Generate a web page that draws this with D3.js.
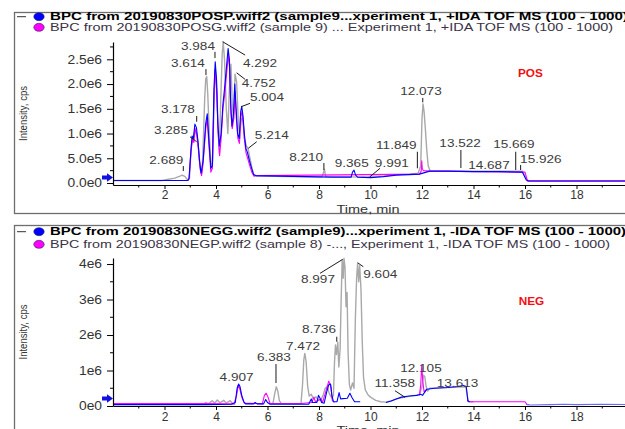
<!DOCTYPE html>
<html>
<head>
<meta charset="utf-8">
<script src="https://cdnjs.cloudflare.com/ajax/libs/d3/7.8.5/d3.min.js"></script>
<style>
body { margin: 0; background: #fff; }
svg { display: block; font-family: "Liberation Sans", Arial, sans-serif; }
</style>
</head>
<body>
<svg id="chart" width="625" height="429"></svg>
<script>
// x ticks (minutes)
const timeTicks = [2, 4, 6, 8, 10, 12, 14, 16, 18];
const timeMinor = [1, 3, 5, 7, 9, 11, 13, 15, 17, 19];

// intensities in millions of cps, [time, intensity]
const posTicks = [0, 0.5, 1, 1.5, 2, 2.5];
const posTickLabels = ["0.0e0", "5.0e5", "1.0e6", "1.5e6", "2.0e6", "2.5e6"];
const posMinor = [0.25, 0.75, 1.25, 1.75, 2.25, 2.75];

const posGray = [[0,0.05],[1.9,0.05],[2.1,0.07],[2.4,0.1],[2.6,0.14],[2.69,0.16],[2.8,0.13],[2.9,0.06],[2.97,0.1],[3.04,0.75],[3.1,0.9],[3.18,1.05],[3.26,0.95],[3.32,0.7],[3.4,0.25],[3.46,0.22],[3.51,0.9],[3.56,1.7],[3.6,2.1],[3.64,2.15],[3.68,1.8],[3.74,1.0],[3.8,0.4],[3.86,0.35],[3.92,1.5],[3.97,2.3],[4.02,2.0],[4.08,1.2],[4.13,0.6],[4.18,1.6],[4.24,2.6],[4.28,2.85],[4.33,2.5],[4.4,1.5],[4.46,1.0],[4.52,1.9],[4.58,2.4],[4.63,1.6],[4.68,1.3],[4.74,2.2],[4.8,2.05],[4.86,1.3],[4.92,0.9],[4.98,1.3],[5.04,1.3],[5.1,0.9],[5.18,0.75],[5.25,0.68],[5.32,0.5],[5.4,0.3],[5.48,0.15],[5.6,0.14],[8.1,0.12],[8.17,0.2],[8.21,0.28],[8.26,0.13],[9.9,0.12],[10.0,0.14],[10.5,0.14],[11.0,0.17],[11.5,0.18],[11.85,0.2],[11.95,0.35],[12.0,1.3],[12.04,1.6],[12.08,1.45],[12.13,1.1],[12.18,0.7],[12.24,0.35],[12.32,0.24],[15.9,0.24],[16.1,0.04],[20,0.04]];
const posBlue = [[0,0.05],[2.9,0.05],[2.95,0.08],[3.02,0.6],[3.07,0.95],[3.12,0.9],[3.18,1.19],[3.24,1.12],[3.3,0.85],[3.36,0.45],[3.42,0.2],[3.5,0.45],[3.6,1.2],[3.66,1.4],[3.72,0.9],[3.8,0.3],[3.86,0.35],[3.92,1.9],[3.97,2.45],[4.02,2.1],[4.07,1.2],[4.13,0.75],[4.2,1.0],[4.27,1.6],[4.33,1.9],[4.4,2.3],[4.47,2.72],[4.52,2.5],[4.57,1.6],[4.62,1.15],[4.68,1.4],[4.73,2.0],[4.78,1.5],[4.84,1.0],[4.9,0.9],[4.96,1.45],[5.0,1.55],[5.05,1.35],[5.1,1.0],[5.16,0.7],[5.22,0.62],[5.3,0.45],[5.38,0.3],[5.46,0.17],[5.55,0.15],[6.5,0.14],[7.5,0.13],[8.5,0.12],[9.25,0.12],[9.3,0.22],[9.36,0.26],[9.42,0.16],[9.5,0.12],[10.0,0.11],[10.5,0.13],[11.0,0.16],[11.5,0.17],[11.9,0.18],[12.3,0.24],[13.0,0.24],[14.0,0.23],[15.0,0.23],[15.9,0.22],[16.05,0.06],[16.15,0.04],[20,0.04]];
const posPink = [[0,0.05],[2.9,0.05],[2.96,0.1],[3.03,0.65],[3.09,0.88],[3.14,0.82],[3.19,1.1],[3.25,1.0],[3.31,0.72],[3.38,0.3],[3.44,0.15],[3.5,0.4],[3.6,1.1],[3.66,1.3],[3.72,0.8],[3.8,0.22],[3.86,0.3],[3.92,1.7],[3.97,2.3],[4.03,1.85],[4.08,1.0],[4.14,0.55],[4.2,0.9],[4.27,1.5],[4.34,1.8],[4.41,2.2],[4.48,2.6],[4.53,2.3],[4.58,1.4],[4.63,1.1],[4.69,1.3],[4.74,1.85],[4.79,1.3],[4.85,0.9],[4.91,0.8],[4.97,1.35],[5.01,1.45],[5.06,1.2],[5.11,0.85],[5.17,0.6],[5.23,0.5],[5.31,0.35],[5.39,0.22],[5.47,0.14],[5.55,0.15],[11.9,0.18],[11.97,0.24],[11.99,0.45],[12.01,0.3],[12.05,0.25],[12.3,0.24],[16,0.22],[16.1,0.04],[20,0.04]];

// peak labels: text, text time, text level, anchor, optional line (t1, v1, t2, v2)
const posLabels = [
  ["2.689", 2.73, 0.465, "end", 2.73, 0.343, 2.73, 0.242],
  ["3.285", 2.91, 1.07, "end", 2.99, 0.935, 3.25, 0.834],
  ["3.178", 3.18, 1.495, "end", 3.25, 1.354, 3.25, 1.238],
  ["3.614", 3.57, 2.43, "end", 3.61, 2.303, 3.61, 2.18],
  ["3.984", 3.96, 2.774, "end", 3.96, 2.652, 3.96, 2.525],
  ["4.292", 5.05, 2.438, "start", 4.26, 2.855, 5.13, 2.586],
  ["4.752", 5.0, 2.026, "start", 4.8, 2.228, 5.13, 2.095],
  ["5.004", 5.32, 1.743, "start", 4.97, 1.541, 5.32, 1.61],
  ["5.214", 5.51, 0.97, "start", 5.25, 0.70, 5.58, 0.834],
  ["8.210", 8.16, 0.531, "end", 8.19, 0.404, 8.19, 0.263],
  ["9.365", 9.27, 0.398, "middle"],
  ["9.991", 10.17, 0.398, "start", 9.98, 0.127, 10.37, 0.297],
  ["11.849", 11.79, 0.768, "end", 11.82, 0.632, 11.82, 0.297],
  ["12.073", 11.96, 1.865, "middle", 12.03, 1.72, 12.03, 1.63],
  ["13.522", 13.48, 0.802, "middle", 13.51, 0.667, 13.51, 0.303],
  ["14.687", 14.6, 0.364, "middle"],
  ["15.669", 15.57, 0.782, "middle", 15.64, 0.632, 15.64, 0.263],
  ["15.926", 15.81, 0.485, "start", 15.83, 0.364, 15.83, 0.263]
];

const negTicks = [0, 1, 2, 3, 4];
const negTickLabels = ["0e0", "1e6", "2e6", "3e6", "4e6"];
const negMinor = [0.5, 1.5, 2.5, 3.5];

const negGray = [[3.5,0.04],[3.6,0.1],[3.7,0.06],[3.85,0.15],[3.95,0.08],[4.05,0.17],[4.15,0.09],[4.3,0.16],[4.4,0.08],[4.55,0.15],[4.65,0.07],[4.75,0.05],[4.8,null],
  [6.1,null],[6.15,0.05],[6.22,0.1],[6.28,0.35],[6.34,0.54],[6.4,0.42],[6.46,0.15],[6.55,0.06],[6.6,null],
  [7.28,null],[7.3,0.06],[7.36,0.6],[7.41,1.3],[7.45,1.48],[7.5,1.25],[7.56,0.55],[7.62,0.28],[7.7,0.33],[7.78,0.2],[7.88,0.26],[7.96,0.18],[8.06,0.16],[8.16,0.3],[8.24,0.5],[8.32,0.55],[8.4,0.35],[8.5,0.22],[8.56,0.3],[8.6,1.2],[8.64,1.72],[8.68,1.45],[8.73,1.8],[8.77,1.1],[8.82,1.6],[8.86,3.0],[8.9,4.12],[8.94,3.6],[8.97,4.16],[9.01,3.9],[9.05,2.8],[9.09,3.2],[9.13,1.5],[9.18,0.6],[9.23,0.45],[9.3,0.65],[9.36,0.5],[9.41,2.4],[9.46,3.6],[9.5,4.02],[9.54,3.5],[9.58,3.95],[9.63,3.3],[9.68,1.8],[9.73,0.8],[9.8,0.45],[9.9,0.32],[10.0,0.25],[10.2,0.16],[10.4,0.12],[10.6,0.11],[10.8,0.14],[11.0,0.2],[11.5,0.27],[11.9,0.32],[12.0,0.55],[12.06,0.87],[12.11,0.82],[12.16,0.55],[12.22,0.42],[12.3,0.5],[13.7,0.54],[13.8,0.12],[14.0,0.12]];
const negBlue = [[0,0.04],[3.6,0.04],[4.6,0.05],[4.75,0.1],[4.82,0.5],[4.88,0.62],[4.93,0.55],[5.0,0.3],[5.08,0.12],[5.15,0.06],[5.45,0.06],[5.52,0.1],[5.6,0.06],[5.85,0.06],[5.93,0.18],[6.0,0.1],[6.1,0.05],[7.6,0.05],[7.7,0.2],[7.75,0.1],[7.92,0.1],[7.98,0.3],[8.04,0.22],[8.1,0.1],[8.2,0.08],[8.3,0.4],[8.38,0.6],[8.45,0.62],[8.5,0.3],[8.56,0.12],[8.7,0.12],[8.78,0.38],[8.84,0.2],[9.1,0.22],[9.2,0.36],[9.28,0.24],[9.38,0.12],[9.6,0.12],[9.65,null],
  [10.55,null],[10.6,0.1],[10.8,0.14],[11.0,0.2],[11.2,0.25],[11.5,0.28],[11.8,0.3],[11.95,0.33],[12.02,0.3],[12.18,0.47],[12.5,0.5],[13.0,0.52],[13.4,0.55],[13.6,0.58],[13.72,0.55],[13.78,0.15],[13.85,0.12]];
const negBlueTail = [[16.05,0.05],[16.2,0.03],[17,0.04],[17.5,0.05],[18,0.04],[19,0.05],[20,0.04]];
const negPink = [[0,0.07],[3.6,0.07],[4.7,0.06],[4.8,0.3],[4.86,0.58],[4.92,0.5],[5.0,0.25],[5.1,0.08],[5.8,0.06],[5.88,0.3],[5.95,0.36],[6.02,0.25],[6.1,0.07],[7.3,0.07],[7.72,0.1],[7.8,0.25],[7.86,0.12],[8.08,0.2],[8.14,0.1],[8.28,0.45],[8.38,0.7],[8.46,0.55],[8.52,0.15],[8.6,0.1],[8.65,null],
  [11.88,null],[11.9,0.3],[11.95,0.6],[11.99,1.15],[12.03,0.7],[12.08,0.4],[12.15,0.45],[12.2,0.46],[12.25,null],
  [13.72,null],[13.75,0.15],[13.85,0.12],[16.0,0.12],[16.08,0.04],[16.15,0.04]];

const negLabels = [
  ["4.907", 4.8, 0.817, "middle"],
  ["6.383", 6.25, 1.372, "middle", 6.33, 1.183, 6.33, 0.648],
  ["7.472", 7.38, 1.69, "middle"],
  ["8.736", 8.66, 2.16, "end", 8.69, 1.952, 8.69, 1.81],
  ["8.997", 8.62, 3.577, "end", 8.92, 4.132, 8.04, 3.738],
  ["9.604", 9.72, 3.71, "start", 9.50, 4.037, 9.72, 3.924],
  ["11.358", 11.73, 0.64, "end", 10.95, 0.431, 11.34, 0.245],
  ["12.105", 11.96, 1.079, "middle"],
  ["13.613", 13.38, 0.656, "middle"]
];

const svg = d3.select("#chart");

function stretch(sel, k) {
  sel.each(function() {
    const w = this.getComputedTextLength();
    d3.select(this).attr("textLength", w * k).attr("lengthAdjust", "spacingAndGlyphs");
  });
}

function drawPanel(p) {
  const g = svg.append("g");

  g.append("rect")
    .attr("x", 14.5).attr("y", p.frameTop + 0.5)
    .attr("width", 640).attr("height", p.frameBottom - p.frameTop)
    .attr("fill", "none").attr("stroke", "#6e6e6e").attr("stroke-width", 1.3);
  g.append("line")
    .attr("x1", 17).attr("x2", 26).attr("y1", p.legendY[0]).attr("y2", p.legendY[0])
    .attr("stroke", "#333").attr("stroke-width", 1);

  p.legend.forEach((row, i) => {
    g.append("ellipse")
      .attr("cx", 39).attr("cy", p.legendY[i]).attr("rx", 5.2).attr("ry", 4)
      .attr("fill", row.color).attr("stroke", "#2a2a55").attr("stroke-width", 0.6);
    g.append("text")
      .attr("x", 50).attr("y", p.legendY[i]).attr("dy", "0.36em")
      .attr("font-size", 10.5)
      .attr("font-weight", i == 0 ? "bold" : "normal")
      .attr("fill", i == 0 ? "#000" : "#3a3346")
      .attr("textLength", row.width).attr("lengthAdjust", "spacingAndGlyphs")
      .text(row.text);
  });

  const x = d3.scaleLinear().domain([0, 20]).range([113, 628]);
  const y = d3.scaleLinear().domain(p.yDomain).range(p.yRange);
  const axisY = p.yRange[0];

  // traces
  const line = d3.line()
    .defined(d => d[1] != null)
    .x(d => x(d[0])).y(d => y(d[1]));
  p.series.forEach(s => {
    g.append("path")
      .attr("d", line(s.data))
      .attr("fill", "none")
      .attr("stroke", s.color)
      .attr("stroke-width", s.width)
      .attr("stroke-linejoin", "round");
  });

  // axes
  const xAxis = g.append("g")
    .attr("transform", `translate(0,${axisY})`)
    .call(d3.axisBottom(x).tickValues(timeTicks).tickSize(4).tickPadding(p.xPad).tickSizeOuter(0));
  g.append("g").selectAll("line").data(timeMinor).join("line")
    .attr("x1", d => x(d)).attr("x2", d => x(d))
    .attr("y1", axisY).attr("y2", axisY + 2.5)
    .attr("stroke", "#000");

  const yAxis = g.append("g")
    .attr("transform", "translate(113,0)")
    .call(d3.axisLeft(y).tickValues(p.yTicks).tickFormat((d, i) => p.yTickLabels[i])
      .tickSize(6).tickPadding(5).tickSizeOuter(0));
  g.append("g").selectAll("line").data(p.yMinor).join("line")
    .attr("x1", 113).attr("x2", 110)
    .attr("y1", d => y(d)).attr("y2", d => y(d))
    .attr("stroke", "#000");

  [xAxis, yAxis].forEach(a => {
    a.select(".domain").attr("stroke", "#000").attr("stroke-width", 1.2);
    a.selectAll(".tick line").attr("stroke", "#000");
    a.selectAll("text").attr("font-size", 12).attr("fill", "#333")
      .attr("font-family", '"Liberation Sans", Arial, sans-serif');
  });
  stretch(yAxis.selectAll("text"), 1.15);

  // axis titles
  g.append("text")
    .attr("transform", `translate(23,${(p.yRange[0] + p.yRange[1]) / 2}) rotate(-90)`)
    .attr("text-anchor", "middle").attr("dy", "0.35em")
    .attr("font-size", 11.5).attr("fill", "#333")
    .attr("textLength", 55).attr("lengthAdjust", "spacingAndGlyphs")
    .text("Intensity, cps");
  g.append("text")
    .attr("x", 368).attr("y", axisY + 24).attr("dy", "0.35em")
    .attr("text-anchor", "middle").attr("font-size", 11).attr("fill", "#333")
    .attr("textLength", 63).attr("lengthAdjust", "spacingAndGlyphs")
    .text("Time, min");

  // baseline arrow
  const ay = axisY - 7.5;
  const ax = x(0);
  const ap = d3.path();
  ap.moveTo(ax - 11, ay - 2);
  ap.lineTo(ax - 6, ay - 2);
  ap.lineTo(ax - 6, ay - 4.3);
  ap.lineTo(ax, ay);
  ap.lineTo(ax - 6, ay + 4.3);
  ap.lineTo(ax - 6, ay + 2);
  ap.lineTo(ax - 11, ay + 2);
  ap.closePath();
  g.append("path").attr("d", ap.toString()).attr("fill", "#1010e0");

  // peak annotations
  p.labels.forEach(l => {
    if (l.length > 4) {
      g.append("line")
        .attr("x1", x(l[4])).attr("y1", y(l[5]))
        .attr("x2", x(l[6])).attr("y2", y(l[7]))
        .attr("stroke", "#1a1a1a").attr("stroke-width", 1);
    }
  });
  const lab = g.append("g").selectAll("text").data(p.labels).join("text")
    .attr("x", d => x(d[1])).attr("y", d => y(d[2])).attr("dy", "0.36em")
    .attr("text-anchor", d => d[3])
    .attr("font-size", 11.5).attr("fill", "#3c3c3c")
    .text(d => d[0]);
  stretch(lab, 1.18);

  const mode = g.append("text")
    .attr("x", x(p.mode[1])).attr("y", y(p.mode[2])).attr("dy", "0.36em")
    .attr("text-anchor", "middle").attr("font-size", 10.5).attr("font-weight", "bold")
    .attr("fill", "#f01010").text(p.mode[0]);
  stretch(mode, 1.12);
}

drawPanel({
  frameTop: 12, frameBottom: 213, legendY: [16.7, 27.3],
  legend: [
    { color: "#0000ff", width: 578, text: "BPC from 20190830POSP.wiff2 (sample9...xperiment 1, +IDA TOF MS (100 - 1000)" },
    { color: "#ff00ff", width: 563, text: "BPC from 20190830POSG.wiff2 (sample 9) ... Experiment 1, +IDA TOF MS (100 - 1000)" }
  ],
  yDomain: [-0.04, 2.85], yRange: [185, 42],
  yTicks: posTicks, yTickLabels: posTickLabels, yMinor: posMinor, xPad: 1,
  series: [
    { data: posGray, color: "#a9a9a9", width: 1.4 },
    { data: posPink, color: "#ff00ff", width: 1.1 },
    { data: posBlue, color: "#0000ff", width: 1.1 }
  ],
  labels: posLabels,
  mode: ["POS", 16.21, 2.216]
});

drawPanel({
  frameTop: 225, frameBottom: 445, legendY: [231.7, 244.3],
  legend: [
    { color: "#0000ff", width: 576, text: "BPC from 20190830NEGG.wiff2 (sample9)...xperiment 1, -IDA TOF MS (100 - 1000)" },
    { color: "#ff00ff", width: 560, text: "BPC from 20190830NEGP.wiff2 (sample 8) -..., Experiment 1, -IDA TOF MS (100 - 1000)" }
  ],
  yDomain: [0, 4.17], yRange: [406, 258],
  yTicks: negTicks, yTickLabels: negTickLabels, yMinor: negMinor, xPad: 2,
  series: [
    { data: negGray, color: "#a9a9a9", width: 1.4 },
    { data: negPink, color: "#ff00ff", width: 1.1 },
    { data: negBlue, color: "#0000ff", width: 1.1 },
    { data: negBlueTail, color: "#6a6aff", width: 1.1 }
  ],
  labels: negLabels,
  mode: ["NEG", 16.25, 2.96]
});
</script>
</body>
</html>
